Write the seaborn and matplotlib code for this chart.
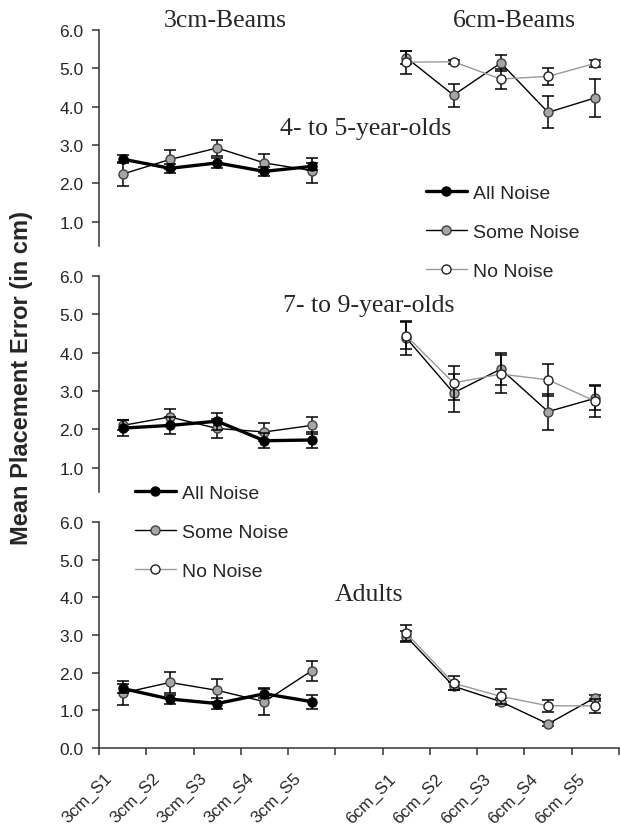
import numpy as np
import seaborn as sns
import matplotlib.pyplot as plt
import matplotlib.transforms as mtransforms
from matplotlib.lines import Line2D

# x categories (blank slot between beam sizes)
labels_3cm = ['3cm_S1', '3cm_S2', '3cm_S3', '3cm_S4', '3cm_S5']
labels_6cm = ['6cm_S1', '6cm_S2', '6cm_S3', '6cm_S4', '6cm_S5']
tick_labels = labels_3cm + [''] + labels_6cm

# 4- to 5-year-olds
young_3cm_all = [2.63, 2.39, 2.53, 2.31, 2.44]
young_3cm_all_err = [0.10, 0.12, 0.12, 0.12, 0.10]
young_3cm_some = [2.24, 2.62, 2.92, 2.53, 2.33]
young_3cm_some_err = [0.32, 0.26, 0.22, 0.23, 0.33]
young_6cm_some = [5.28, 4.30, 5.14, 3.85, 4.23]
young_6cm_some_err = [0.18, 0.30, 0.22, 0.42, 0.49]
young_6cm_none = [5.16, 5.17, 4.72, 4.79, 5.13]
young_6cm_none_err = [0.30, 0.05, 0.25, 0.22, 0.10]

# 7- to 9-year-olds
mid_3cm_all = [2.03, 2.10, 2.21, 1.70, 1.72]
mid_3cm_all_err = [0.20, 0.22, 0.22, 0.20, 0.20]
mid_3cm_some = [2.10, 2.32, 2.02, 1.93, 2.10]
mid_3cm_some_err = [0.13, 0.22, 0.25, 0.23, 0.22]
mid_6cm_some = [4.38, 2.95, 3.57, 2.46, 2.81]
mid_6cm_some_err = [0.45, 0.50, 0.42, 0.47, 0.32]
mid_6cm_none = [4.44, 3.21, 3.44, 3.29, 2.73]
mid_6cm_none_err = [0.35, 0.45, 0.50, 0.42, 0.42]

# Adults
adult_3cm_all = [1.58, 1.30, 1.18, 1.44, 1.23]
adult_3cm_all_err = [0.12, 0.12, 0.15, 0.12, 0.19]
adult_3cm_some = [1.46, 1.74, 1.53, 1.23, 2.05]
adult_3cm_some_err = [0.33, 0.27, 0.30, 0.36, 0.27]
adult_6cm_some = [2.96, 1.64, 1.23, 0.64, 1.34]
adult_6cm_some_err = [0.15, 0.10, 0.10, 0.05, 0.08]
adult_6cm_none = [3.05, 1.72, 1.37, 1.12, 1.12]
adult_6cm_none_err = [0.21, 0.18, 0.19, 0.16, 0.18]

pos_3cm = np.arange(5)
pos_6cm = np.arange(6, 11)

sns.set_style('ticks')
plt.rcParams['font.family'] = ['Liberation Sans', 'DejaVu Sans']

styles = {
    'All Noise': dict(color='black', linewidth=2.4, markerfacecolor='black',
                      markeredgecolor='black'),
    'Some Noise': dict(color='black', linewidth=1.0, markerfacecolor='#a6a6a6',
                       markeredgecolor='#404040'),
    'No Noise': dict(color='#999999', linewidth=1.0, markerfacecolor='white',
                     markeredgecolor='#202020'),
}


def draw(ax, pos, vals, errs, name, z):
    ax.errorbar(pos, vals, yerr=errs, fmt='none', ecolor='black',
                elinewidth=1.1, capsize=4.5, capthick=1.1, zorder=z)
    sns.lineplot(x=pos, y=vals, ax=ax, marker='o', markersize=6.5,
                 markeredgewidth=1.0, zorder=z + 1, **styles[name])


fig = plt.figure(figsize=(6.2, 8.29), dpi=100)
left, width = 99 / 620, 520 / 620
ax_top = fig.add_axes([left, 1 - 246.7 / 829, width, 215.7 / 829])
ax_mid = fig.add_axes([left, 1 - 492.7 / 829, width, 215.7 / 829])
ax_bot = fig.add_axes([left, 1 - 749 / 829, width, 226 / 829])

panels = [
    (ax_top, young_3cm_all, young_3cm_all_err, young_3cm_some, young_3cm_some_err,
     young_6cm_some, young_6cm_some_err, young_6cm_none, young_6cm_none_err),
    (ax_mid, mid_3cm_all, mid_3cm_all_err, mid_3cm_some, mid_3cm_some_err,
     mid_6cm_some, mid_6cm_some_err, mid_6cm_none, mid_6cm_none_err),
    (ax_bot, adult_3cm_all, adult_3cm_all_err, adult_3cm_some, adult_3cm_some_err,
     adult_6cm_some, adult_6cm_some_err, adult_6cm_none, adult_6cm_none_err),
]

for ax, a3, a3e, s3, s3e, s6, s6e, n6, n6e in panels:
    draw(ax, pos_3cm, s3, s3e, 'Some Noise', 2)
    draw(ax, pos_3cm, a3, a3e, 'All Noise', 4)
    draw(ax, pos_6cm, s6, s6e, 'Some Noise', 2)
    draw(ax, pos_6cm, n6, n6e, 'No Noise', 4)
    ax.set_xlim(-0.5, 10.5)
    ax.set_xlabel('')
    ax.set_ylabel('')
    ax.yaxis.set_major_formatter(plt.FormatStrFormatter('%.1f'))
    ax.tick_params(axis='y', direction='out', length=5, width=1.1,
                   color='#333333', labelsize=12.5, pad=6)
    ax.spines['left'].set_color('#333333')
    ax.spines['left'].set_linewidth(1.1)
    for s in ['top', 'right']:
        ax.spines[s].set_visible(False)
    ax.set_facecolor('none')

for ax in [ax_top, ax_mid]:
    ax.set_ylim(0.37, 6.0)
    ax.set_yticks([1, 2, 3, 4, 5, 6])
    ax.spines['bottom'].set_visible(False)
    ax.set_xticks([])

ax_bot.set_ylim(0, 6)
ax_bot.set_yticks([0, 1, 2, 3, 4, 5, 6])
ax_bot.spines['bottom'].set_color('#333333')
ax_bot.spines['bottom'].set_linewidth(1.1)
ax_bot.set_xticks(np.arange(-0.5, 11, 1))
ax_bot.set_xticklabels([])
ax_bot.set_xticks(np.arange(11), minor=True)
ax_bot.set_xticklabels(tick_labels, minor=True, rotation=45, ha='right',
                       rotation_mode='anchor', fontsize=12.3)
ax_bot.tick_params(axis='x', which='major', direction='out', length=5,
                   width=1.1, color='#333333')
ax_bot.tick_params(axis='x', which='minor', length=0, pad=16)
shift = mtransforms.ScaledTranslation(-18 / 100, 0, fig.dpi_scale_trans)
for lab in ax_bot.get_xticklabels(minor=True):
    lab.set_transform(lab.get_transform() + shift)

# legends
handles = [Line2D([], [], marker='o', markersize=6.5, markeredgewidth=1.0, **styles[n])
           for n in styles]
names = list(styles)
leg_kw = dict(loc='upper left', frameon=False, fontsize=14, handlelength=2.1,
              handletextpad=0.3, labelspacing=1.1, borderpad=0, borderaxespad=0)
fig.legend(handles, names, bbox_to_anchor=(426 / 620, 1 - 185 / 829), **leg_kw)
fig.legend(handles, names, bbox_to_anchor=(135 / 620, 1 - 485 / 829), **leg_kw)

serif = ['Liberation Serif', 'DejaVu Serif']
fig.text(225 / 620, 1 - 27 / 829, '3cm-Beams', family=serif, fontsize=18.5,
         ha='center', va='baseline')
fig.text(514 / 620, 1 - 27 / 829, '6cm-Beams', family=serif, fontsize=18.5,
         ha='center', va='baseline')
fig.text(366 / 620, 1 - 135 / 829, '4- to 5-year-olds', family=serif, fontsize=18.5,
         ha='center', va='baseline')
fig.text(369 / 620, 1 - 311.7 / 829, '7- to 9-year-olds', family=serif, fontsize=18.5,
         ha='center', va='baseline')
fig.text(369 / 620, 1 - 600.7 / 829, 'Adults', family=serif, fontsize=18.5,
         ha='center', va='baseline')
fig.text(22 / 620, 1 - 378 / 829, 'Mean Placement Error (in cm)', fontsize=17,
         fontweight='bold', rotation=90, ha='center', va='center')

fig.savefig('out.png', dpi=100)
